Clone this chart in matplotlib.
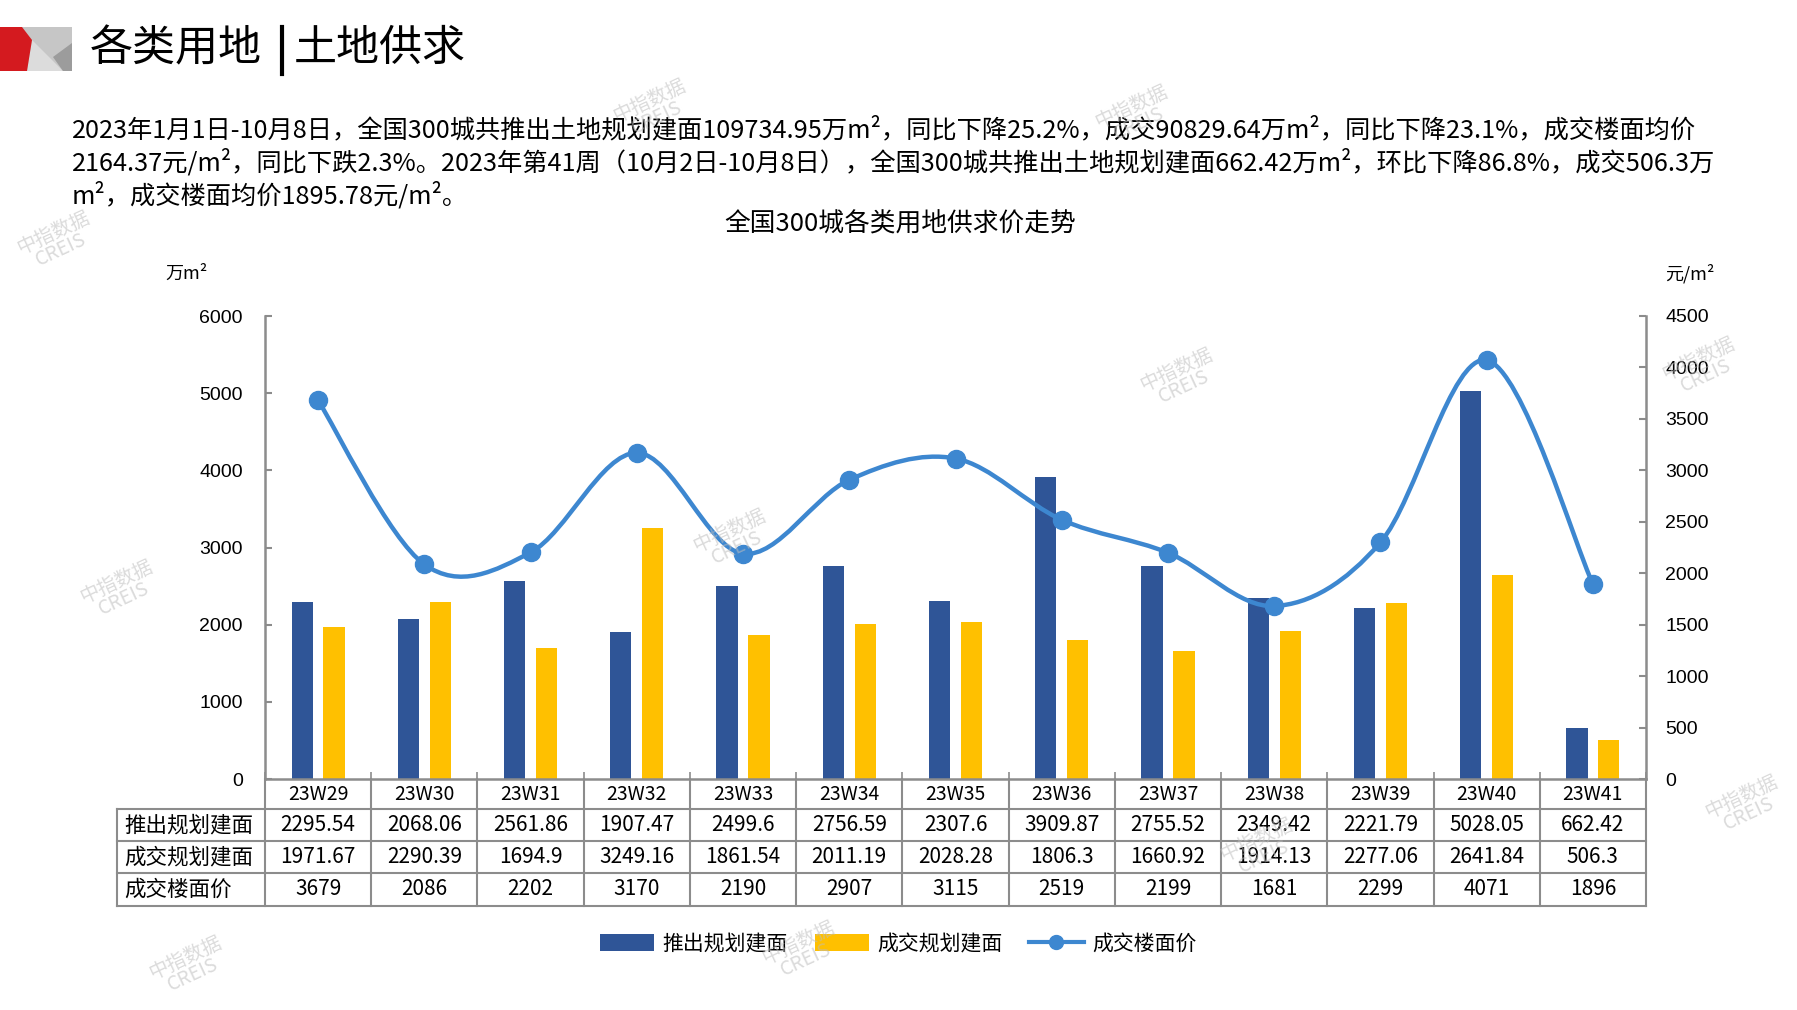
import numpy as np
import matplotlib

matplotlib.use("Agg")

import matplotlib.pyplot as plt
from matplotlib.lines import Line2D
from matplotlib.patches import PathPatch, Patch, Polygon
from matplotlib.path import Path

plt.rcParams["font.family"] = ["Noto Sans CJK SC", "DejaVu Sans"]

# data
weeks = ["23W29", "23W30", "23W31", "23W32", "23W33", "23W34", "23W35",
         "23W36", "23W37", "23W38", "23W39", "23W40", "23W41"]
launched = [2295.54, 2068.06, 2561.86, 1907.47, 2499.6, 2756.59, 2307.6,
            3909.87, 2755.52, 2349.42, 2221.79, 5028.05, 662.42]
sold = [1971.67, 2290.39, 1694.9, 3249.16, 1861.54, 2011.19, 2028.28,
        1806.3, 1660.92, 1914.13, 2277.06, 2641.84, 506.3]
price = [3679, 2086, 2202, 3170, 2190, 2907, 3115, 2519, 2199, 1681, 2299, 4071, 1896]
row_names = ["推出规划建面", "成交规划建面", "成交楼面价"]

header = "各类用地"
header2 = "土地供求"
chart_title = "全国300城各类用地供求价走势"
paragraph = [
    "2023年1月1日-10月8日，全国300城共推出土地规划建面109734.95万m²，同比下降25.2%，成交90829.64万m²，同比下降23.1%，成交楼面均价",
    "2164.37元/m²，同比下跌2.3%。2023年第41周（10月2日-10月8日），全国300城共推出土地规划建面662.42万m²，环比下降86.8%，成交506.3万",
    "m²，成交楼面均价1895.78元/m²。",
]

BLUE = "#2F5597"
YELLOW = "#FFC000"
LINE = "#3D87D0"
GRID = "#8C8C8C"
W, H = 1797, 1010


def fx(px):
    return px / W


def fy(py):
    return 1 - py / H


def smooth_path(xs, ys):
    # Excel-style smoothed line: Catmull-Rom segments as cubic Beziers
    pts = np.column_stack([xs, ys]).astype(float)
    padded = np.vstack([pts[0], pts, pts[-1]])
    verts = [pts[0]]
    codes = [Path.MOVETO]
    for i in range(len(pts) - 1):
        p0, p1, p2, p3 = padded[i], padded[i + 1], padded[i + 2], padded[i + 3]
        verts += [p1 + (p2 - p0) / 6, p2 - (p3 - p1) / 6, p2]
        codes += [Path.CURVE4] * 3
    return Path(verts, codes)


fig = plt.figure(figsize=(W / 100, H / 100), dpi=100)

# logo block
logo = [
    ([(22, 27), (72, 27), (72, 71), (22, 71)], "#C6C6C6"),
    ([(32, 40), (63, 71), (27, 71)], "#DCDCDC"),
    ([(72, 43), (72, 71), (63, 71), (53, 57)], "#9C9C9C"),
    ([(0, 27), (22, 27), (32, 40), (27, 71), (0, 71)], "#D41A1F"),
]
for pts, col in logo:
    fig.patches.append(Polygon([(fx(a), fy(b)) for a, b in pts], closed=True,
                               facecolor=col, edgecolor="none",
                               transform=fig.transFigure))

fig.text(fx(90), fy(49), header, fontsize=31, va="center", ha="left")
fig.add_artist(Line2D([fx(282), fx(282)], [fy(27), fy(74)], color="black", lw=3))
fig.text(fx(294), fy(49), header2, fontsize=31, va="center", ha="left")

for i, line in enumerate(paragraph):
    fig.text(fx(72), fy(130 + 33 * i), line, fontsize=18.2, va="center", ha="left")

fig.text(fx(900), fy(225), chart_title, fontsize=18.5, ha="center", va="center")
fig.text(fx(186), fy(274), "万m²", fontsize=13, ha="center", va="center")
fig.text(fx(1690), fy(274), "元/m²", fontsize=13, ha="center", va="center")

ax = fig.add_axes([fx(265), fy(779), fx(1646) - fx(265), (779 - 316) / H])
x = np.arange(len(weeks))
ax.bar(x - 0.15, launched, width=0.2, color=BLUE, zorder=2)
ax.bar(x + 0.15, sold, width=0.2, color=YELLOW, zorder=2)
ax.set_xlim(-0.5, len(weeks) - 0.5)
ax.set_ylim(0, 6000)
ax.set_yticks(range(0, 6001, 1000))
ax.set_xticks(np.arange(-0.5, len(weeks), 1))
ax.set_xticklabels([])
for s in ["top", "right"]:
    ax.spines[s].set_visible(False)
for s in ["left", "bottom"]:
    ax.spines[s].set_color(GRID)
    ax.spines[s].set_linewidth(1.8)
ax.tick_params(axis="y", direction="in", length=5, color=GRID, width=1.5,
               labelsize=14, pad=16)
ax.tick_params(axis="x", direction="in", length=5, color=GRID, width=1.2)
for lab in ax.get_yticklabels():
    lab.set_family("Liberation Sans")

ax2 = ax.twinx()
ax2.set_ylim(0, 4500)
ax2.set_yticks(range(0, 4501, 500))
for s in ["top", "left", "bottom"]:
    ax2.spines[s].set_visible(False)
ax2.spines["right"].set_color(GRID)
ax2.spines["right"].set_linewidth(1.8)
ax2.tick_params(axis="y", direction="in", length=5, color=GRID, width=1.5,
                labelsize=14, pad=14)
for lab in ax2.get_yticklabels():
    lab.set_family("Liberation Sans")
ax2.add_patch(PathPatch(smooth_path(x, price), facecolor="none", edgecolor=LINE,
                        lw=3.2, capstyle="round", zorder=3))
ax2.plot(x, price, "o", ms=13, color=LINE, zorder=4)

# data table under the axis
tr = ax.get_xaxis_transform()
rows_y = [0, -0.065, -0.134, -0.203, -0.274]
left = -1.894
right = len(weeks) - 0.5
kw = dict(color=GRID, lw=1.5, transform=tr, clip_on=False)
for yv in rows_y[1:]:
    ax.plot([left, right], [yv, yv], **kw)
for xv in np.arange(-0.5, len(weeks), 1):
    ax.plot([xv, xv], [0, rows_y[-1]], **kw)
ax.plot([left, left], [rows_y[1], rows_y[-1]], **kw)

mid = [(rows_y[k] + rows_y[k + 1]) / 2 for k in range(4)]
for i, w in enumerate(weeks):
    ax.text(i, mid[0], w, transform=tr, ha="center", va="center", fontsize=14)
    ax.text(i, mid[1], f"{launched[i]:g}", transform=tr, ha="center", va="center", fontsize=15)
    ax.text(i, mid[2], f"{sold[i]:g}", transform=tr, ha="center", va="center", fontsize=15)
    ax.text(i, mid[3], f"{price[i]}", transform=tr, ha="center", va="center", fontsize=15)
for k, name in enumerate(row_names):
    ax.text(left + 0.07, mid[k + 1], name, transform=tr, ha="left", va="center", fontsize=15.5)

handles = [
    Patch(facecolor=BLUE, edgecolor="none"),
    Patch(facecolor=YELLOW, edgecolor="none"),
    Line2D([], [], color=LINE, lw=3, marker="o", ms=10),
]
fig.legend(handles, row_names, loc="center", bbox_to_anchor=(fx(898), fy(944)),
           ncol=3, frameon=False, fontsize=15, handlelength=2.6, handleheight=0.9,
           handletextpad=0.4, columnspacing=1.3)

# faint watermarks
marks = [(57, 241), (120, 590), (653, 109), (1135, 115), (1180, 378), (733, 539),
         (1702, 367), (1745, 805), (189, 966), (802, 951), (1260, 848)]
for mx, my in marks:
    fig.text(fx(mx), fy(my), "中指数据\nCREIS", fontsize=14, color="#BDBDBD", alpha=0.55,
             rotation=25, ha="center", va="center", linespacing=0.9, zorder=10)

fig.savefig("out.png", dpi=100)
